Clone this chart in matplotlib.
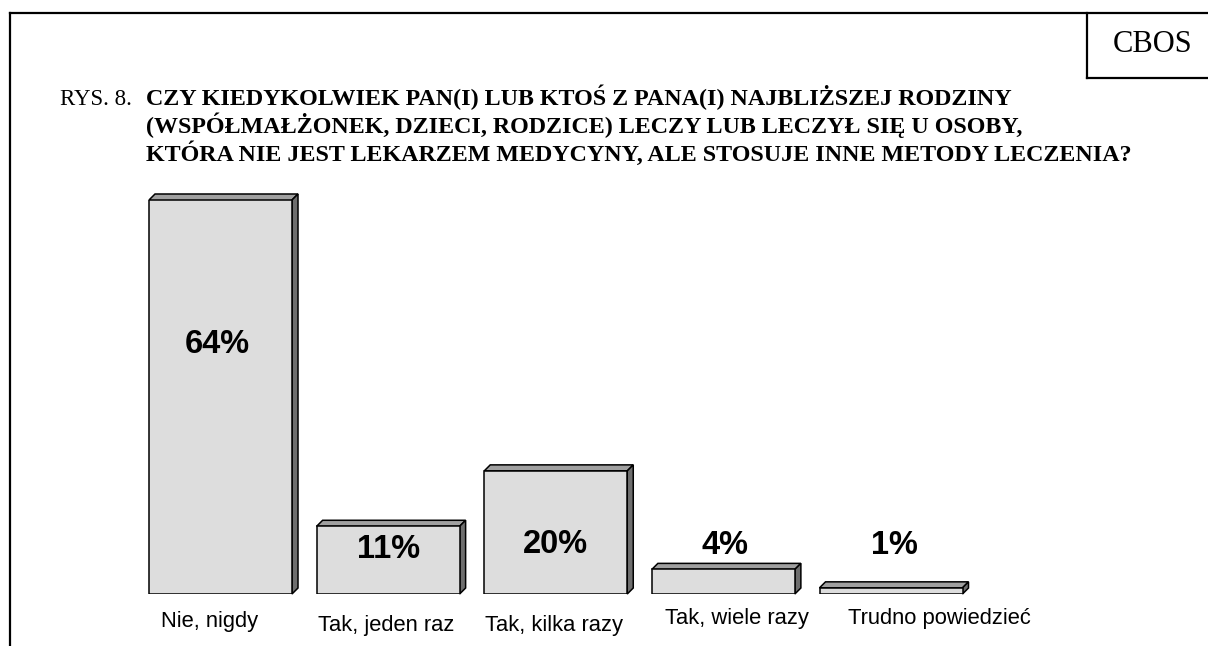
import matplotlib
matplotlib.use("Agg")
import matplotlib.pyplot as plt
from matplotlib.patches import Polygon
from matplotlib.lines import Line2D

# ---- data ----
categories = ["Nie, nigdy", "Tak, jeden raz", "Tak, kilka razy", "Tak, wiele razy", "Trudno powiedzieć"]
values = [64, 11, 20, 4, 1]
value_labels = ["64%", "11%", "20%", "4%", "1%"]
title_prefix = "RYS. 8."
title_lines = [
    "CZY KIEDYKOLWIEK PAN(I) LUB KTOŚ Z PANA(I) NAJBLIŻSZEJ RODZINY",
    "(WSPÓŁMAŁŻONEK, DZIECI, RODZICE) LECZY LUB LECZYŁ SIĘ U OSOBY,",
    "KTÓRA NIE JEST LEKARZEM MEDYCYNY, ALE STOSUJE INNE METODY LECZENIA?",
]
source = "CBOS"

# ---- style / layout ----
W, H = 1208, 646
DPI = 100
label_heights = [40.6, 7.15, 8.1, 7.95, 7.95]      # value-label centre heights (data units)
label_dx = [-3, 0, 0, 2, 3]                         # value-label x offsets (px)
cat_dx = [-11, -2, -2, 14, 48]                      # category label x offsets (px)
cat_dy = [33, 37, 37, 30, 30]                       # category label baseline below axis (px)

fig = plt.figure(figsize=(W / DPI, H / DPI), dpi=DPI)
fig.patch.set_facecolor("white")

def fx(px):
    return px / W

def fy(py):
    return 1 - py / H

# axes: x centres 220.5 .. 891 px, baseline y=594 px, 64 -> y=200 px
unit = (891 - 220.5) / 4
ax_left = 220.5 - unit * 0.5
ax_right = 891 + unit * 0.5
ax = fig.add_axes([fx(ax_left), fy(594), fx(ax_right - ax_left), (594 - 200) / H])
ax.set_xlim(-0.5, 4.5)
ax.set_ylim(0, 64)
ax.axis("off")

bar_w = 143 / unit
depth_px = 6
dx = depth_px / unit
dy = depth_px / ((594 - 200) / 64)

front_c = "#dddddd"
top_c = "#a0a0a0"
side_c = "#6e6e6e"
xs = list(range(len(values)))

ax.bar(xs, values, width=bar_w, color=front_c, edgecolor="black", linewidth=1.1, zorder=3)
for x, v in zip(xs, values):
    xl, xr = x - bar_w / 2, x + bar_w / 2
    top = Polygon([(xl, v), (xr, v), (xr + dx, v + dy), (xl + dx, v + dy)], closed=True,
                  facecolor=top_c, edgecolor="black", linewidth=1.1, zorder=2, clip_on=False)
    side = Polygon([(xr, 0), (xr + dx, dy), (xr + dx, v + dy), (xr, v)], closed=True,
                   facecolor=side_c, edgecolor="black", linewidth=1.1, zorder=2, clip_on=False)
    ax.add_patch(top)
    ax.add_patch(side)

for x, lab, h, ldx in zip(xs, value_labels, label_heights, label_dx):
    ax.annotate(lab, xy=(x, h), xytext=(ldx, 0), textcoords="offset pixels",
                ha="center", va="center", fontsize=23.5, fontweight="bold",
                family="Liberation Sans", zorder=5, annotation_clip=False)

for x, cat, ddx, ddy in zip(xs, categories, cat_dx, cat_dy):
    ax.annotate(cat, xy=(x, 0), xytext=(ddx, -ddy), textcoords="offset pixels",
                ha="center", va="baseline", fontsize=15.8, family="Liberation Sans",
                annotation_clip=False)

# ---- title ----
fig.text(fx(60), fy(105), title_prefix, ha="left", va="baseline", fontsize=16.5,
         family="Liberation Serif")
for i, line in enumerate(title_lines):
    fig.text(fx(146), fy(105 + 28 * i), line, ha="left", va="baseline", fontsize=17.3,
             fontweight="bold", family="Liberation Serif")

# ---- frame and source box ----
lw = 1.6
fig.add_artist(Line2D([fx(10), fx(W)], [fy(13), fy(13)], transform=fig.transFigure,
                      color="black", linewidth=lw, solid_capstyle="projecting"))
fig.add_artist(Line2D([fx(10), fx(10)], [fy(13), fy(H)], transform=fig.transFigure,
                      color="black", linewidth=lw, solid_capstyle="projecting"))
fig.add_artist(Line2D([fx(1087), fx(1087)], [fy(13), fy(78)], transform=fig.transFigure,
                      color="black", linewidth=lw, solid_capstyle="projecting"))
fig.add_artist(Line2D([fx(1087), fx(W)], [fy(78), fy(78)], transform=fig.transFigure,
                      color="black", linewidth=lw, solid_capstyle="projecting"))
fig.text(fx(1153), fy(45), source, ha="center", va="center", fontsize=22,
         family="Liberation Serif")

fig.savefig("out.png", dpi=DPI, facecolor="white")
